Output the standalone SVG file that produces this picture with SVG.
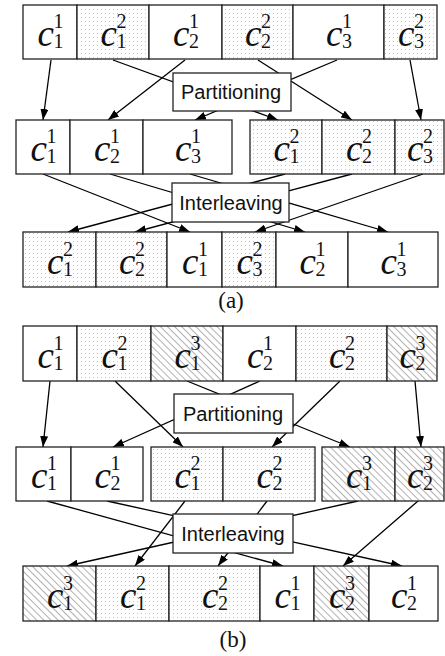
<svg xmlns="http://www.w3.org/2000/svg" width="445" height="656" viewBox="0 0 445 656">
<defs>
<pattern id="dots" width="4" height="4" patternUnits="userSpaceOnUse"><rect width="4" height="4" fill="#fff"/><rect x="1" y="1" width="1" height="1" fill="#c4c4c4"/></pattern>
<pattern id="hatch" width="5" height="5" patternUnits="userSpaceOnUse" patternTransform="rotate(45)"><rect width="5" height="5" fill="#fff"/><line x1="0" y1="2.5" x2="5" y2="2.5" stroke="#a8a8a8" stroke-width="0.9"/></pattern>
<marker id="arr" markerUnits="userSpaceOnUse" markerWidth="11" markerHeight="8" refX="11" refY="4" orient="auto"><path d="M0,0 L11,4 L0,8 z" fill="#000"/></marker>
</defs>
<style>
.w,.d,.h{stroke:#222;stroke-width:1.3}
.w{fill:#fff}
.d{fill:url(#dots)}
.h{fill:url(#hatch)}
.c{font-family:"Liberation Serif",serif;font-style:italic;font-size:37px;fill:#111}
.s{font-family:"Liberation Serif",serif;font-size:20px;fill:#111}
.t{font-family:"Liberation Sans",Arial,sans-serif;font-size:20px;fill:#111;text-anchor:middle}
.cap{font-family:"Liberation Serif",serif;font-size:23px;fill:#111;text-anchor:middle}
#connectors line{stroke:#000;stroke-width:1.3;marker-end:url(#arr)}
</style>
<rect x="0" y="0" width="445" height="656" fill="#fff"/>
<g id="connectors">
<line x1="51" y1="60" x2="43" y2="120"/>
<line x1="113" y1="60" x2="278" y2="120"/>
<line x1="185" y1="60" x2="108" y2="120"/>
<line x1="258" y1="60" x2="352" y2="120"/>
<line x1="337" y1="60" x2="195" y2="120"/>
<line x1="410" y1="60" x2="421" y2="120"/>
<line x1="43" y1="174" x2="190" y2="232"/>
<line x1="110" y1="174" x2="305" y2="232"/>
<line x1="190" y1="174" x2="388" y2="232"/>
<line x1="285" y1="174" x2="68" y2="232"/>
<line x1="352" y1="174" x2="135" y2="232"/>
<line x1="423" y1="174" x2="255" y2="232"/>
<line x1="50" y1="381" x2="43" y2="447"/>
<line x1="115" y1="381" x2="183" y2="447"/>
<line x1="187" y1="381" x2="350" y2="447"/>
<line x1="260" y1="381" x2="113" y2="447"/>
<line x1="340" y1="381" x2="272" y2="447"/>
<line x1="415" y1="381" x2="421" y2="447"/>
<line x1="47" y1="501" x2="283" y2="566"/>
<line x1="107" y1="501" x2="402" y2="566"/>
<line x1="185" y1="501" x2="135" y2="566"/>
<line x1="267" y1="501" x2="218" y2="566"/>
<line x1="358" y1="501" x2="67" y2="566"/>
<line x1="418" y1="501" x2="343" y2="566"/>
</g>
<!-- (a) row 1 -->
<g id="a1-1"><rect class="w" x="23" y="5" width="54" height="54"/><text class="c" x="37.5" y="46">c</text><text class="s" x="53.5" y="28">1</text><text class="s" x="53.5" y="48">1</text></g>
<g id="a1-2"><rect class="d" x="77" y="5" width="72" height="54"/><text class="c" x="100.5" y="46">c</text><text class="s" x="116.5" y="28">2</text><text class="s" x="116.5" y="48">1</text></g>
<g id="a1-3"><rect class="w" x="149" y="5" width="73" height="54"/><text class="c" x="173" y="46">c</text><text class="s" x="189" y="28">1</text><text class="s" x="189" y="48">2</text></g>
<g id="a1-4"><rect class="d" x="222" y="5" width="71" height="54"/><text class="c" x="245" y="46">c</text><text class="s" x="261" y="28">2</text><text class="s" x="261" y="48">2</text></g>
<g id="a1-5"><rect class="w" x="293" y="5" width="91" height="54"/><text class="c" x="326" y="46">c</text><text class="s" x="342" y="28">1</text><text class="s" x="342" y="48">3</text></g>
<g id="a1-6"><rect class="d" x="384" y="5" width="53" height="54"/><text class="c" x="398" y="46">c</text><text class="s" x="414" y="28">2</text><text class="s" x="414" y="48">3</text></g>
<!-- (a) row 2 -->
<g id="a2-1"><rect class="w" x="16" y="120" width="54" height="54"/><text class="c" x="30.5" y="161">c</text><text class="s" x="46.5" y="143">1</text><text class="s" x="46.5" y="163">1</text></g>
<g id="a2-2"><rect class="w" x="70" y="120" width="73" height="54"/><text class="c" x="94" y="161">c</text><text class="s" x="110" y="143">1</text><text class="s" x="110" y="163">2</text></g>
<g id="a2-3"><rect class="w" x="143" y="120" width="89" height="54"/><text class="c" x="175" y="161">c</text><text class="s" x="191" y="143">1</text><text class="s" x="191" y="163">3</text></g>
<g id="a2-4"><rect class="d" x="250" y="120" width="72" height="54"/><text class="c" x="273.5" y="161">c</text><text class="s" x="289.5" y="143">2</text><text class="s" x="289.5" y="163">1</text></g>
<g id="a2-5"><rect class="d" x="322" y="120" width="73" height="54"/><text class="c" x="346" y="161">c</text><text class="s" x="362" y="143">2</text><text class="s" x="362" y="163">2</text></g>
<g id="a2-6"><rect class="d" x="395" y="120" width="49" height="54"/><text class="c" x="407" y="161">c</text><text class="s" x="423" y="143">2</text><text class="s" x="423" y="163">3</text></g>
<!-- (a) row 3 -->
<g id="a3-1"><rect class="d" x="23" y="232" width="73" height="55"/><text class="c" x="47" y="273.5">c</text><text class="s" x="63" y="255.5">2</text><text class="s" x="63" y="275.5">1</text></g>
<g id="a3-2"><rect class="d" x="96" y="232" width="71" height="55"/><text class="c" x="119" y="273.5">c</text><text class="s" x="135" y="255.5">2</text><text class="s" x="135" y="275.5">2</text></g>
<g id="a3-3"><rect class="w" x="167" y="232" width="55" height="55"/><text class="c" x="182" y="273.5">c</text><text class="s" x="198" y="255.5">1</text><text class="s" x="198" y="275.5">1</text></g>
<g id="a3-4"><rect class="d" x="222" y="232" width="54" height="55"/><text class="c" x="236.5" y="273.5">c</text><text class="s" x="252.5" y="255.5">2</text><text class="s" x="252.5" y="275.5">3</text></g>
<g id="a3-5"><rect class="w" x="276" y="232" width="72" height="55"/><text class="c" x="299.5" y="273.5">c</text><text class="s" x="315.5" y="255.5">1</text><text class="s" x="315.5" y="275.5">2</text></g>
<g id="a3-6"><rect class="w" x="348" y="232" width="90" height="55"/><text class="c" x="380.5" y="273.5">c</text><text class="s" x="396.5" y="255.5">1</text><text class="s" x="396.5" y="275.5">3</text></g>
<!-- (b) row 1 -->
<g id="b1-1"><rect class="w" x="23" y="326" width="54" height="55"/><text class="c" x="37.5" y="367.5">c</text><text class="s" x="53.5" y="349.5">1</text><text class="s" x="53.5" y="369.5">1</text></g>
<g id="b1-2"><rect class="d" x="77" y="326" width="74" height="55"/><text class="c" x="101.5" y="367.5">c</text><text class="s" x="117.5" y="349.5">2</text><text class="s" x="117.5" y="369.5">1</text></g>
<g id="b1-3"><rect class="h" x="151" y="326" width="72" height="55"/><text class="c" x="174.5" y="367.5">c</text><text class="s" x="190.5" y="349.5">3</text><text class="s" x="190.5" y="369.5">1</text></g>
<g id="b1-4"><rect class="w" x="223" y="326" width="73" height="55"/><text class="c" x="247" y="367.5">c</text><text class="s" x="263" y="349.5">1</text><text class="s" x="263" y="369.5">2</text></g>
<g id="b1-5"><rect class="d" x="296" y="326" width="91" height="55"/><text class="c" x="329" y="367.5">c</text><text class="s" x="345" y="349.5">2</text><text class="s" x="345" y="369.5">2</text></g>
<g id="b1-6"><rect class="h" x="387" y="326" width="50" height="55"/><text class="c" x="399.5" y="367.5">c</text><text class="s" x="415.5" y="349.5">3</text><text class="s" x="415.5" y="369.5">2</text></g>
<!-- (b) row 2 -->
<g id="b2-1"><rect class="w" x="16" y="447" width="55" height="54"/><text class="c" x="31" y="488">c</text><text class="s" x="47" y="470">1</text><text class="s" x="47" y="490">1</text></g>
<g id="b2-2"><rect class="w" x="71" y="447" width="72" height="54"/><text class="c" x="94.5" y="488">c</text><text class="s" x="110.5" y="470">1</text><text class="s" x="110.5" y="490">2</text></g>
<g id="b2-3"><rect class="d" x="151" y="447" width="72" height="54"/><text class="c" x="174.5" y="488">c</text><text class="s" x="190.5" y="470">2</text><text class="s" x="190.5" y="490">1</text></g>
<g id="b2-4"><rect class="d" x="223" y="447" width="92" height="54"/><text class="c" x="256.5" y="488">c</text><text class="s" x="272.5" y="470">2</text><text class="s" x="272.5" y="490">2</text></g>
<g id="b2-5"><rect class="h" x="322" y="447" width="73" height="54"/><text class="c" x="346" y="488">c</text><text class="s" x="362" y="470">3</text><text class="s" x="362" y="490">1</text></g>
<g id="b2-6"><rect class="h" x="395" y="447" width="49" height="54"/><text class="c" x="407" y="488">c</text><text class="s" x="423" y="470">3</text><text class="s" x="423" y="490">2</text></g>
<!-- (b) row 3 -->
<g id="b3-1"><rect class="h" x="23" y="566" width="73" height="55"/><text class="c" x="47" y="607.5">c</text><text class="s" x="63" y="589.5">3</text><text class="s" x="63" y="609.5">1</text></g>
<g id="b3-2"><rect class="d" x="96" y="566" width="73" height="55"/><text class="c" x="120" y="607.5">c</text><text class="s" x="136" y="589.5">2</text><text class="s" x="136" y="609.5">1</text></g>
<g id="b3-3"><rect class="d" x="169" y="566" width="91" height="55"/><text class="c" x="202" y="607.5">c</text><text class="s" x="218" y="589.5">2</text><text class="s" x="218" y="609.5">2</text></g>
<g id="b3-4"><rect class="w" x="260" y="566" width="54" height="55"/><text class="c" x="274.5" y="607.5">c</text><text class="s" x="290.5" y="589.5">1</text><text class="s" x="290.5" y="609.5">1</text></g>
<g id="b3-5"><rect class="h" x="314" y="566" width="55" height="55"/><text class="c" x="329" y="607.5">c</text><text class="s" x="345" y="589.5">3</text><text class="s" x="345" y="609.5">2</text></g>
<g id="b3-6"><rect class="w" x="369" y="566" width="69" height="55"/><text class="c" x="391" y="607.5">c</text><text class="s" x="407" y="589.5">1</text><text class="s" x="407" y="609.5">2</text></g>
<!-- process boxes -->
<g id="a-partitioning"><rect class="w" x="173" y="73" width="118" height="38"/><text class="t" x="231" y="99">Partitioning</text></g>
<g id="a-interleaving"><rect class="w" x="172" y="183" width="117" height="39"/><text class="t" x="231" y="209.5">Interleaving</text></g>
<g id="b-partitioning"><rect class="w" x="174" y="394" width="119" height="39"/><text class="t" x="233" y="420.5">Partitioning</text></g>
<g id="b-interleaving"><rect class="w" x="173" y="514" width="120" height="39"/><text class="t" x="233" y="541">Interleaving</text></g>
<text class="cap" x="231" y="308">(a)</text>
<text class="cap" x="233" y="647">(b)</text>
</svg>
